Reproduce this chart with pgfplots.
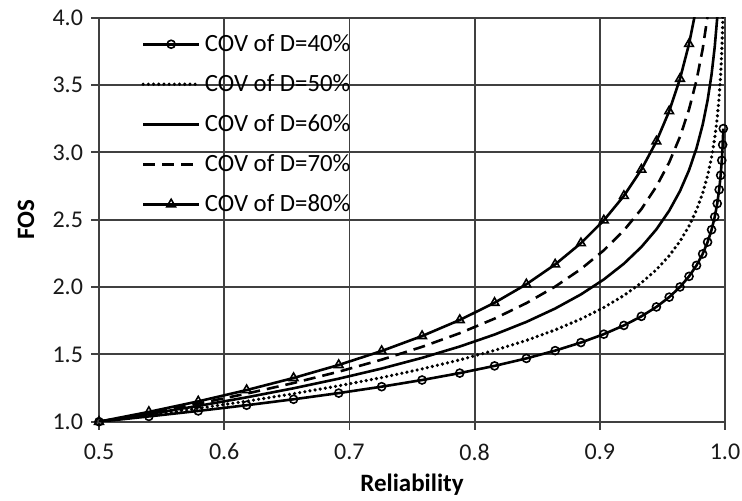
\documentclass[border=0pt]{standalone}
\usepackage{fontspec}
\setmainfont{Carlito}
\usepackage{pgfplots}
\pgfplotsset{compat=1.18}
\begin{document}
\begin{tikzpicture}
\path[use as bounding box] (-49.5pt,-39.15pt) rectangle (321.5pt,210.85pt);
\begin{axis}[
  at={(0pt,0pt)}, anchor=south west,
  scale only axis, width=313pt, height=202pt,
  xmin=0.5, xmax=1.0, ymin=1.0, ymax=4.0,
  xtick={0.5,0.6,0.7,0.8,0.9,1.0},
  xticklabels={0.5,0.6,0.7,0.8,0.9,1.0},
  ytick={1,1.5,2,2.5,3,3.5,4},
  yticklabels={1.0,1.5,2.0,2.5,3.0,3.5,4.0},
  grid=major,
  grid style={black!75, line width=0.9pt},
  axis line style={black!75, line width=0.9pt},
  tick style={black!75, line width=0.9pt},
  tick align=outside, major tick length=4pt, tick pos=left,
  ticklabel style={font=\fontsize{12}{14}\selectfont, text=black!90},
  xticklabel style={yshift=-3.5pt},
  yticklabel style={xshift=-0.5pt},
  xlabel={Reliability}, ylabel={FOS},
  xlabel style={at={(axis description cs:0.5,0)}, anchor=center, yshift=-31.5pt, font=\fontsize{12.5}{14}\selectfont\bfseries},
  ylabel style={at={(axis description cs:-0.1166,0.5)}, anchor=center, font=\fontsize{12.5}{14}\selectfont\bfseries},
  legend cell align=left,
  legend style={at={(axis description cs:0.067,0.97)}, anchor=north west, draw=none, fill=none,
    font=\fontsize{12.4}{14}\selectfont, row sep=6pt, inner sep=0pt},
  legend image code/.code={\draw[mark repeat=2,mark phase=2,#1] plot coordinates {(0pt,0pt) (14pt,0pt) (28pt,0pt)};},
  every axis plot/.append style={line width=1.3pt, black},
]
% COV of D = 40%
\addplot[mark=o, mark size=2pt, mark options={solid, fill=white, line width=0.8pt}] coordinates {
(0.5,1) (0.53983,1.0393) (0.57926,1.0801) (0.61791,1.1225) (0.65542,1.1666) (0.69146,1.2124)
(0.72575,1.2601) (0.75804,1.3096) (0.78814,1.3610) (0.81594,1.4145) (0.84134,1.4700) (0.86433,1.5278)
(0.88493,1.5878) (0.90320,1.6501) (0.91924,1.7150) (0.93319,1.7823) (0.94520,1.8523) (0.95543,1.9251)
(0.96407,2.0007) (0.97128,2.0793) (0.97725,2.1609) (0.98214,2.2458) (0.98610,2.3340) (0.98928,2.4257)
(0.99180,2.5209) (0.99379,2.6199) (0.99534,2.7229) (0.99653,2.8298) (0.99744,2.9409) (0.99813,3.0564)
(0.99865,3.1765)};
\addlegendentry{COV of D=40\%}
% COV of D = 50%
\addplot[line width=1.8pt, line cap=round, dash pattern=on 0pt off 2.6pt] coordinates {
(0.5,1) (0.53983,1.0484) (0.57926,1.0991) (0.61791,1.1522) (0.65542,1.2080) (0.69146,1.2664)
(0.72575,1.3277) (0.75804,1.3919) (0.78814,1.4592) (0.81594,1.5298) (0.84134,1.6038) (0.86433,1.6814)
(0.88493,1.7627) (0.90320,1.8480) (0.91924,1.9374) (0.93319,2.0311) (0.94520,2.1293) (0.95543,2.2324)
(0.96407,2.3403) (0.97128,2.4536) (0.97725,2.5722) (0.98214,2.6966) (0.98610,2.8271) (0.98928,2.9638)
(0.99180,3.1072) (0.99379,3.2575) (0.99534,3.4150) (0.99653,3.5802) (0.99744,3.7533) (0.99813,3.9349)
(0.99865,4.1253)};
\addlegendentry{COV of D=50\%}
% COV of D = 60%
\addplot[solid] coordinates {
(0.5,1) (0.53983,1.0570) (0.57926,1.1173) (0.61791,1.1810) (0.65542,1.2483) (0.69146,1.3195)
(0.72575,1.3947) (0.75804,1.4743) (0.78814,1.5583) (0.81594,1.6472) (0.84134,1.7411) (0.86433,1.8404)
(0.88493,1.9453) (0.90320,2.0562) (0.91924,2.1734) (0.93319,2.2974) (0.94520,2.4284) (0.95543,2.5668)
(0.96407,2.7132) (0.97128,2.8679) (0.97725,3.0313) (0.98214,3.2042) (0.98610,3.3869) (0.98928,3.5800)
(0.99180,3.7841) (0.99379,4.0000) (0.99534,4.2281)};
\addlegendentry{COV of D=60\%}
% COV of D = 70%
\addplot[dash pattern=on 6pt off 3.5pt] coordinates {
(0.5,1) (0.53983,1.0652) (0.57926,1.1346) (0.61791,1.2086) (0.65542,1.2874) (0.69146,1.3713)
(0.72575,1.4607) (0.75804,1.5559) (0.78814,1.6573) (0.81594,1.7654) (0.84134,1.8805) (0.86433,2.0031)
(0.88493,2.1336) (0.90320,2.2727) (0.91924,2.4208) (0.93319,2.5786) (0.94520,2.7467) (0.95543,2.9258)
(0.96407,3.1165) (0.97128,3.3196) (0.97725,3.5360) (0.98214,3.7665) (0.98610,4.0121)};
\addlegendentry{COV of D=70\%}
% COV of D = 80%
\addplot[mark=triangle, mark size=2.5pt, mark options={solid, fill=white, line width=0.8pt}] coordinates {
(0.5,1) (0.53983,1.0729) (0.57926,1.1510) (0.61791,1.2349) (0.65542,1.3249) (0.69146,1.4214)
(0.72575,1.5251) (0.75804,1.6362) (0.78814,1.7554) (0.81594,1.8833) (0.84134,2.0206) (0.86433,2.1678)
(0.88493,2.3257) (0.90320,2.4952) (0.91924,2.6770) (0.93319,2.8721) (0.94520,3.0814) (0.95543,3.3058)
(0.96407,3.5467) (0.97128,3.8052)};
\addlegendentry{COV of D=80\%}
\addplot[forget plot] coordinates {(0.97128,3.8052) (0.97725,4.0824)};
\end{axis}
\end{tikzpicture}
\end{document}
